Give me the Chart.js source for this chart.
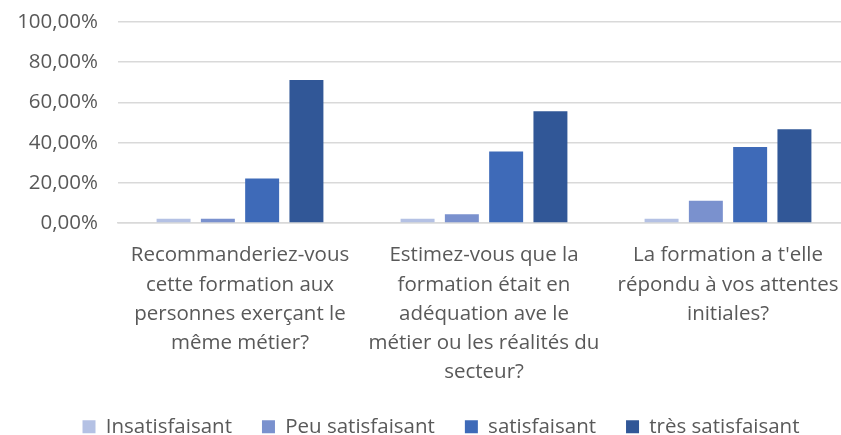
<!DOCTYPE html>
<html>
<head>
<meta charset="utf-8">
<script src="https://cdn.jsdelivr.net/npm/chart.js@4/dist/chart.umd.min.js"></script>
<style>
  html, body { margin: 0; background: #fff; overflow: hidden; }
  /* the original picture is cropped on the right, so the canvas is a bit wider than the window */
  #wrap { width: 850px; height: 435px; }
</style>
</head>
<body>
<div id="wrap"><canvas id="barChart"></canvas></div>
<script>
var categories = [
    ['Recommanderiez-vous', 'cette formation aux', 'personnes exerçant le', 'même métier?'],
    ['Estimez-vous que la', 'formation était en', 'adéquation ave le', 'métier ou les réalités du', 'secteur?'],
    ['La formation a t\'elle', 'répondu à vos attentes', 'initiales?']
];
var insatisfaisant = [2.22, 2.22, 2.22];
var peuSatisfaisant = [2.22, 4.44, 11.11];
var satisfaisant = [22.22, 35.56, 37.78];
var tresSatisfaisant = [71.11, 55.56, 46.67];
var yTicks = [0, 20, 40, 60, 80, 100];

var textColor = '#595959';
var font = { family: 'Open Sans', size: 20.5 };

// the legend sits a bit right of centre in the original
var legendShift = {
    id: 'legendShift',
    afterLayout: function (chart) {
        if (chart.legend) chart.legend.left += 22;
    }
};

var ctx = document.getElementById('barChart').getContext('2d');
var barChart = new Chart(ctx, {
    type: 'bar',
    data: {
        labels: categories,
        datasets: [
            { label: 'Insatisfaisant', data: insatisfaisant, backgroundColor: '#B4C1E4' },
            { label: 'Peu satisfaisant', data: peuSatisfaisant, backgroundColor: '#7A91CE' },
            { label: 'satisfaisant', data: satisfaisant, backgroundColor: '#3E6AB8' },
            { label: 'très satisfaisant', data: tresSatisfaisant, backgroundColor: '#315797' }
        ]
    },
    plugins: [legendShift],
    options: {
        responsive: true,
        maintainAspectRatio: false,
        animation: false,
        categoryPercentage: 0.726,
        barPercentage: 0.767,
        layout: { padding: { top: 22, right: 0, left: 10, bottom: -12 } },
        plugins: {
            tooltip: { enabled: false },
            legend: {
                position: 'bottom',
                labels: {
                    color: textColor,
                    font: font,
                    boxWidth: 13,
                    boxHeight: 13,
                    padding: 30
                }
            }
        },
        scales: {
            x: {
                afterFit: function (axis) { axis.height = 163.4; },
                grid: { display: false },
                border: { color: '#d9d9d9', width: 1.5 },
                ticks: {
                    color: textColor,
                    font: { family: 'Open Sans', size: 20.5, lineHeight: 1.42 },
                    maxRotation: 0,
                    autoSkip: false,
                    padding: 10
                }
            },
            y: {
                min: 0,
                max: 100,
                afterBuildTicks: function (axis) {
                    axis.ticks = yTicks.map(function (v) { return { value: v }; });
                },
                afterFit: function (axis) { axis.width = 108; },
                grid: { color: '#d9d9d9', lineWidth: 1.5, drawTicks: true, tickLength: 20, tickColor: 'rgba(0,0,0,0)' },
                border: { display: false },
                ticks: {
                    color: textColor,
                    font: font,
                    padding: 0,
                    callback: function (v) { return v.toFixed(2).replace('.', ',') + '%'; }
                }
            }
        }
    }
});
</script>
</body>
</html>
